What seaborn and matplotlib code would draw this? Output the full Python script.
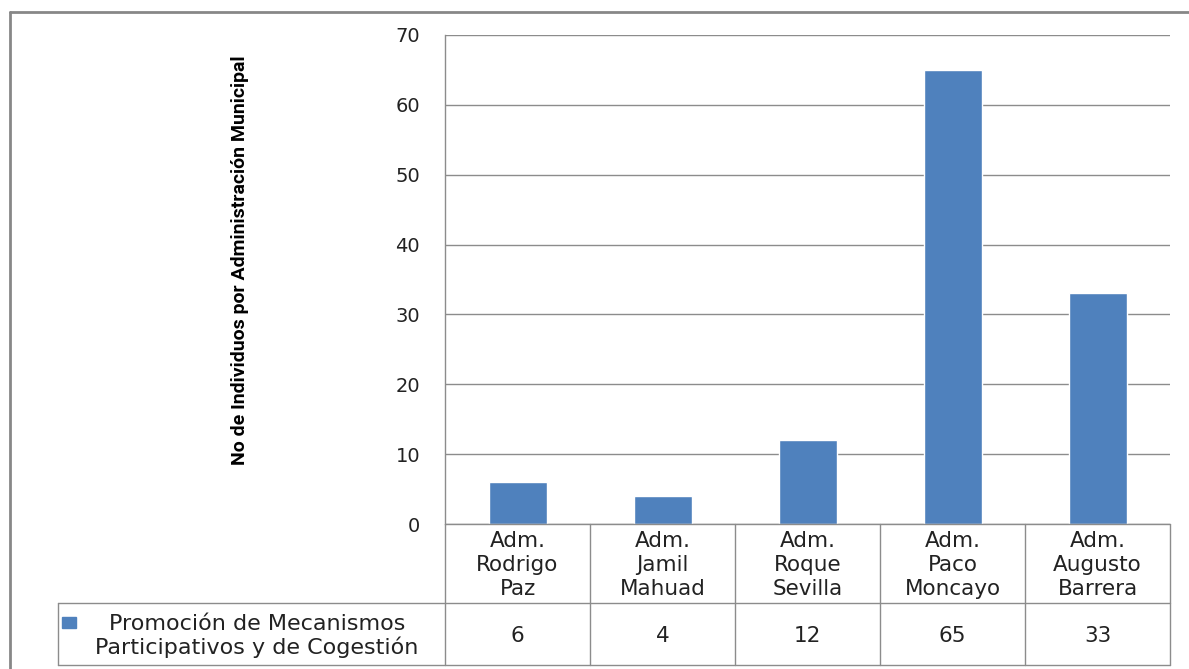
import numpy as np
import pandas as pd
import seaborn as sns
import matplotlib.pyplot as plt
from matplotlib.lines import Line2D
from matplotlib.patches import Rectangle

# data
categories = ["Adm.\nRodrigo\nPaz", "Adm.\nJamil\nMahuad", "Adm.\nRoque\nSevilla",
              "Adm.\nPaco\nMoncayo", "Adm.\nAugusto\nBarrera"]
values = [6, 4, 12, 65, 33]
series_name = "Promoción de Mecanismos\nParticipativos y de Cogestión"
y_label = "No de Individuos por Administración Municipal"
y_ticks = [0, 10, 20, 30, 40, 50, 60, 70]

BAR = "#4F81BD"
GRID = "#8C8C8C"
TXT = "#222222"
W, H = 1189, 669

sns.set_style("white")
plt.rcParams["font.family"] = ["DejaVu Sans"]

fig = plt.figure(figsize=(W / 100, H / 100), dpi=100)


def fx(px):
    return px / W


def fy(py):
    return 1 - py / H


# main plot area
ax = fig.add_axes([fx(445), fy(524), fx(1170) - fx(445), fy(35) - fy(524)])
df = pd.DataFrame({"cat": categories, "val": values})
sns.barplot(data=df, x="cat", y="val", color=BAR, width=0.4, saturation=1, ax=ax)
ax.set_xlim(-0.5, len(categories) - 0.5)
ax.set_ylim(0, 70)
ax.set_yticks(y_ticks)
ax.yaxis.grid(True, color=GRID, linewidth=1)
ax.set_axisbelow(True)
for s in ["top", "right", "bottom"]:
    ax.spines[s].set_visible(False)
ax.spines["left"].set_color(GRID)
ax.spines["left"].set_linewidth(1)
ax.set_xticks([])
ax.set_xlabel("")
ax.set_ylabel("")
ax.tick_params(axis="y", length=0, pad=18, labelsize=14, labelcolor=TXT)

fig.text(fx(240), fy(260), y_label, rotation=90, ha="center", va="center",
         fontsize=14, fontweight="bold", color="black",
         family=["Roboto", "DejaVu Sans"])

# data table below the plot
tab = fig.add_axes([fx(445), fy(665), fx(1170) - fx(445), fy(524) - fy(665)], sharex=ax)
tab.set_ylim(665, 524)
tab.axis("off")
n = len(categories)
for i in range(n + 1):
    tab.plot([i - 0.5, i - 0.5], [524, 665], color=GRID, lw=1, clip_on=False)
tab.plot([-0.5, n - 0.5], [524, 524], color=GRID, lw=1, clip_on=False)
for i, (c, v) in enumerate(zip(categories, values)):
    tab.text(i, 565, c, ha="center", va="center", fontsize=15.5, color=TXT,
             linespacing=1.22)
    tab.text(i, 636, str(v), ha="center", va="center", fontsize=15.5, color=TXT)

# row lines extending into the legend cell
for y in (603, 665):
    fig.add_artist(Line2D([fx(58), fx(1170)], [fy(y), fy(y)], color=GRID, lw=1))
fig.add_artist(Line2D([fx(58), fx(58)], [fy(603), fy(665)], color=GRID, lw=1))
fig.add_artist(Rectangle((fx(62), fy(628)), fx(14), fy(617) - fy(628), color=BAR))
fig.text(fx(257), fy(636), series_name, ha="center", va="center", fontsize=16,
         color=TXT, linespacing=1.15)

# outer chart frame (cropped on the right and bottom)
fig.add_artist(Line2D([fx(10), fx(W)], [fy(12), fy(12)], color="#878787", lw=2))
fig.add_artist(Line2D([fx(10), fx(10)], [fy(12), 0], color="#878787", lw=2))

fig.savefig("out.png", dpi=100)
